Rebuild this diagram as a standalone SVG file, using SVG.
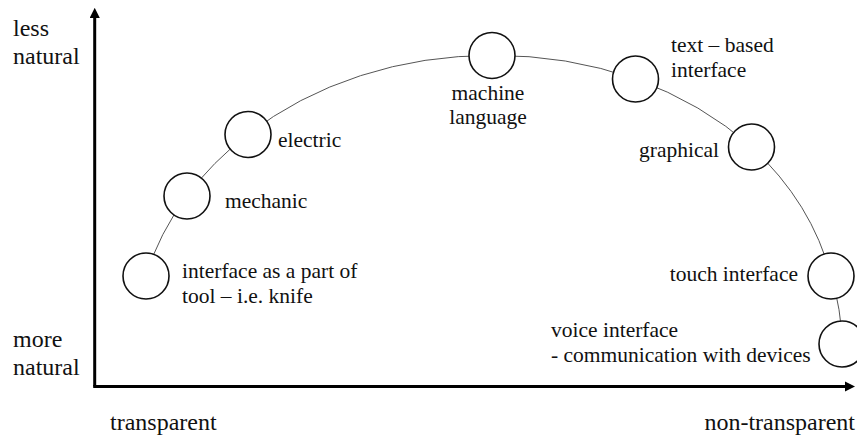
<svg xmlns="http://www.w3.org/2000/svg" width="857" height="436" viewBox="0 0 857 436">
<style>
.ax{font-size:24px}
.lb{font-size:21.5px}
.nd{fill:#fff;stroke:#111;stroke-width:1.6}
.cn{fill:none;stroke:#555;stroke-width:1}
.axis{fill:none;stroke:#000;stroke-width:3}
</style>
<defs>
<marker id="ah" viewBox="0 0 10 10" refX="1" refY="5" markerWidth="3.4" markerHeight="3.4" orient="auto" markerUnits="strokeWidth">
<path d="M0,0 L10,5 L0,10 z" fill="#000"/>
</marker>
</defs>
<g font-family="Liberation Serif, serif" fill="#111">
<g id="axes">
<path class="axis" d="M94.7,386.5 V17" marker-end="url(#ah)"/>
<path class="axis" d="M93.2,386.5 H846" marker-end="url(#ah)"/>
<text class="ax" x="13" y="36">less</text>
<text class="ax" x="13" y="64">natural</text>
<text class="ax" x="13" y="347">more</text>
<text class="ax" x="13" y="375">natural</text>
<text class="ax" x="110" y="430">transparent</text>
<text class="ax" x="855" y="430" text-anchor="end">non-transparent</text>
</g>
<g id="connectors">
<path class="cn" d="M146,276 A350,285 0 0 1 187,196"/>
<path class="cn" d="M187,196 A350,285 0 0 1 248,134.5"/>
<path class="cn" d="M248,134.5 A350,285 0 0 1 492,55.5"/>
<path class="cn" d="M492,55.5 A350,285 0 0 1 635.5,79"/>
<path class="cn" d="M635.5,79 A350,285 0 0 1 751.5,147"/>
<path class="cn" d="M751.5,147 A350,285 0 0 1 831,276"/>
<path class="cn" d="M831,276 A350,285 0 0 1 842,344"/>
</g>
<g id="node-knife">
<circle class="nd" cx="146" cy="276" r="23"/>
<text class="lb" x="182" y="278">interface as a part of</text>
<text class="lb" x="182" y="303">tool – i.e. knife</text>
</g>
<g id="node-mechanic">
<circle class="nd" cx="187" cy="196" r="23"/>
<text class="lb" x="225" y="208">mechanic</text>
</g>
<g id="node-electric">
<circle class="nd" cx="248" cy="134.5" r="23"/>
<text class="lb" x="278" y="146.5">electric</text>
</g>
<g id="node-machine">
<circle class="nd" cx="492" cy="55.5" r="23"/>
<text class="lb" x="488" y="100" text-anchor="middle">machine</text>
<text class="lb" x="488" y="124" text-anchor="middle">language</text>
</g>
<g id="node-text">
<circle class="nd" cx="635.5" cy="79" r="23"/>
<text class="lb" x="671" y="52">text – based</text>
<text class="lb" x="671" y="77">interface</text>
</g>
<g id="node-graphical">
<circle class="nd" cx="751.5" cy="147" r="23"/>
<text class="lb" x="719" y="157" text-anchor="end">graphical</text>
</g>
<g id="node-touch">
<circle class="nd" cx="831" cy="276" r="23"/>
<text class="lb" x="798" y="281" text-anchor="end">touch interface</text>
</g>
<g id="node-voice">
<circle class="nd" cx="842" cy="344" r="23"/>
<text class="lb" x="551" y="337">voice interface</text>
<text class="lb" x="551" y="362">- communication with devices</text>
</g>
</g>
</svg>
